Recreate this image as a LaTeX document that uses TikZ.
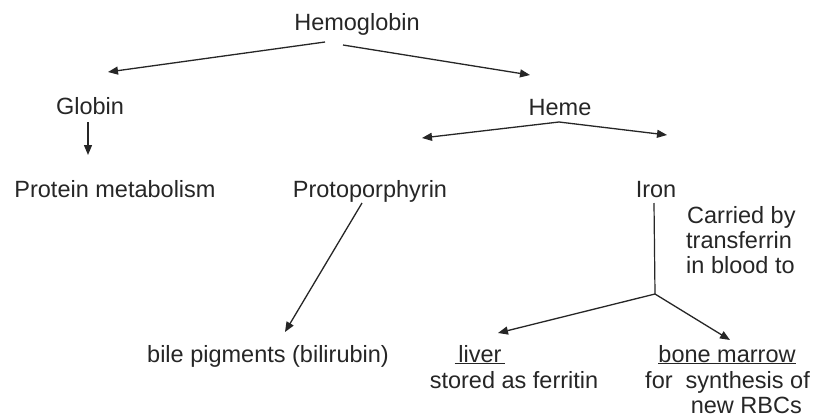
\documentclass[tikz,border=0pt]{standalone}
\usepackage{fontspec}
\setmainfont{Liberation Sans}
\usetikzlibrary{arrows.meta}
\begin{document}
\begin{tikzpicture}[x=1pt,y=-1pt,
  lbl/.style={font=\fontsize{23.5}{27}\selectfont, inner sep=0pt, anchor=base, text=black!85},
  arr/.style={-{Triangle[length=10pt,width=8pt]}, line width=1.3pt, draw=black!85},
  ln/.style={line width=1.2pt, draw=black!85}]
\useasboundingbox[fill=white] (0,0) rectangle (814,418);
\node[lbl] (hb) at (357,30) {Hemoglobin};
\node[lbl] (gl) at (90,114) {Globin};
\node[lbl] (he) at (560,115) {Heme};
\node[lbl] (pm) at (115,197) {Protein metabolism};
\node[lbl] (pp) at (370,197) {Protoporphyrin};
\node[lbl] (ir) at (656,197) {Iron};
\node[lbl, anchor=base west] (c1) at (687,223) {Carried by};
\node[lbl, anchor=base west] (c2) at (686,248) {transferrin};
\node[lbl, anchor=base west] (c3) at (686,273) {in blood to};
\node[lbl, anchor=base west] (bp) at (147,362) {bile pigments (bilirubin)};
\node[lbl] (lv) at (480,362) {\underline{\,liver\,}};
\node[lbl] (sf) at (514,388) {stored as ferritin};
\node[lbl] (bm) at (727,362) {\underline{bone marrow}};
\node[lbl, anchor=base east] (fs) at (810,388) {for\ \ synthesis of};
\node[lbl, anchor=base east] (nr) at (802,413) {new RBCs};
\coordinate (hbL) at (325,42);
\coordinate (hbR) at (343,45);
\coordinate (glT) at (108,72);
\coordinate (heT) at (530,75);
\coordinate (heS) at (559,122);
\coordinate (ppT) at (422,138);
\coordinate (irT) at (667,135);
\coordinate (gA) at (88,122);
\coordinate (gB) at (88,155);
\coordinate (pA) at (362,203);
\coordinate (pB) at (285,332);
\coordinate (iA) at (654,203);
\coordinate (fk) at (655,294);
\coordinate (lvT) at (498,333);
\coordinate (bmT) at (730,340);
\draw[arr] (hbL) -- (glT);
\draw[arr] (hbR) -- (heT);
\draw[arr] (heS) -- (ppT);
\draw[arr] (heS) -- (irT);
\draw[arr] (gA) -- (gB);
\draw[arr] (pA) -- (pB);
\draw[ln] (iA) -- (fk);
\draw[arr] (fk) -- (lvT);
\draw[arr] (fk) -- (bmT);
\end{tikzpicture}
\end{document}
